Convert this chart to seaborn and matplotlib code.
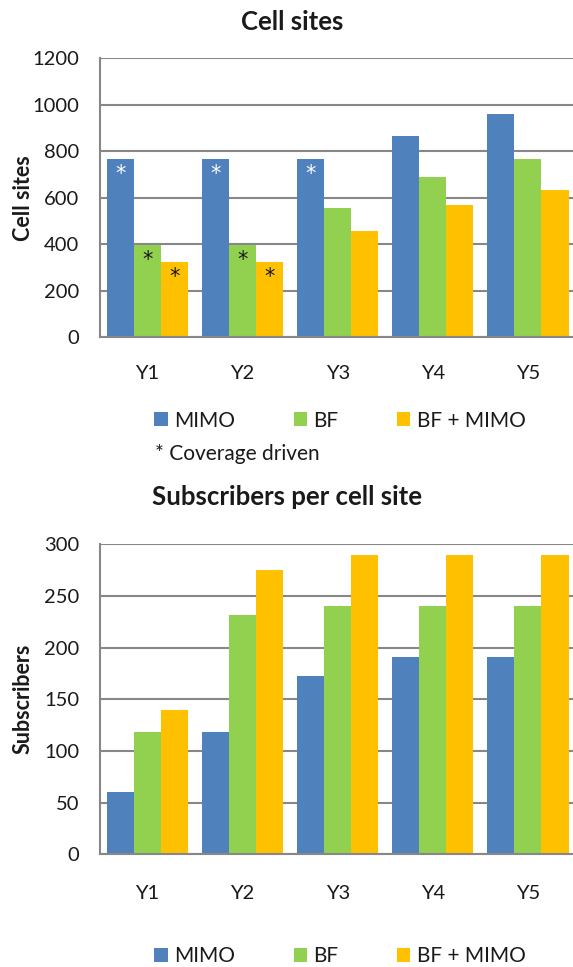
import matplotlib
matplotlib.use("Agg")
import matplotlib.pyplot as plt
from matplotlib.patches import Patch
import seaborn as sns
import pandas as pd

# Data
years = ["Y1", "Y2", "Y3", "Y4", "Y5"]
techs = ["MIMO", "BF", "BF + MIMO"]

sites_mimo = [765, 765, 765, 865, 960]
sites_bf = [395, 395, 557, 690, 765]
sites_bfmimo = [323, 323, 457, 570, 632]

subs_mimo = [60, 118, 173, 191, 191]
subs_bf = [118, 232, 240, 240, 240]
subs_bfmimo = [140, 275, 290, 290, 290]

# Coverage-driven flags (marked with an asterisk on the bar)
cov_mimo = [True, True, True, False, False]
cov_bf = [True, True, False, False, False]
cov_bfmimo = [True, True, False, False, False]

colors = ["#4F81BD", "#92D050", "#FFC000"]
grid_color = "#878787"
text_color = "#1a1a1a"

sns.set_theme(style="white")
plt.rcParams["font.family"] = ["Lato", "DejaVu Sans"]

W, H, DPI = 573, 967, 100
fig = plt.figure(figsize=(W / DPI, H / DPI), dpi=DPI)


def axes_rect(left, right, top, bottom):
    return [left / W, 1 - bottom / H, (right - left) / W, (bottom - top) / H]


def long_frame(series):
    rows = []
    for tech, vals in zip(techs, series):
        for y, v in zip(years, vals):
            rows.append({"year": y, "tech": tech, "value": v})
    return pd.DataFrame(rows)


def draw_panel(ax, df, ymax, ystep, ylabel, xpad):
    sns.barplot(data=df, x="year", y="value", hue="tech", order=years,
                hue_order=techs, palette=colors, saturation=1, width=0.854,
                linewidth=0, legend=False, ax=ax)
    ax.set_xlim(-0.5, len(years) - 0.5)
    ax.set_ylim(0, ymax)
    ax.set_yticks(range(0, ymax + 1, ystep))
    ax.set_axisbelow(True)
    ax.grid(axis="y", color=grid_color, linewidth=1.5)
    ax.grid(axis="x", visible=False)
    for side in ["top", "right"]:
        ax.spines[side].set_visible(False)
    for side in ["left", "bottom"]:
        ax.spines[side].set_color(grid_color)
        ax.spines[side].set_linewidth(1.5)
    ax.tick_params(axis="y", length=0, pad=15, labelsize=14.5, labelcolor=text_color)
    ax.tick_params(axis="x", length=0, pad=xpad, labelsize=14.5, labelcolor=text_color)
    ax.set_xlabel("")
    ax.set_ylabel(ylabel, fontsize=15.5, fontweight="bold", color=text_color)
    ax.yaxis.set_label_coords((23 - 100) / 475.5, 0.5)
    ax.yaxis.label.set_va("center")


# Top panel: cell sites
ax1 = fig.add_axes(axes_rect(100, 575.5, 58.3, 337.0))
draw_panel(ax1, long_frame([sites_mimo, sites_bf, sites_bfmimo]),
           1200, 200, "Cell sites", 20)

star_colors = ["white", text_color, text_color]
for cont, flags, sc in zip(ax1.containers, [cov_mimo, cov_bf, cov_bfmimo], star_colors):
    for bar, flag in zip(cont.patches, flags):
        if flag:
            ax1.annotate("*", xy=(bar.get_x() + bar.get_width() / 2, bar.get_height()),
                         xytext=(0, -15), textcoords="offset pixels",
                         ha="center", va="center", fontsize=15, color=sc,
                         family="DejaVu Sans")

# Bottom panel: subscribers per cell site
ax2 = fig.add_axes(axes_rect(100, 575.5, 544.3, 854.3))
draw_panel(ax2, long_frame([subs_mimo, subs_bf, subs_bfmimo]),
           300, 50, "Subscribers", 22)

# Titles
fig.text(292.5 / W, 1 - 21.7 / H, "Cell sites", ha="center", va="center",
         fontsize=18.5, fontweight="bold", color=text_color)
fig.text(287.5 / W, 1 - 497 / H, "Subscribers per cell site", ha="center",
         va="center", fontsize=18.5, fontweight="bold", color=text_color)

# Legends
handles = [Patch(facecolor=c, edgecolor="none") for c in colors]
for ycen in (420.7, 956.0):
    fig.legend(handles, techs, loc="center", bbox_to_anchor=(340 / W, 1 - ycen / H),
               ncol=3, frameon=False, fontsize=15, handlelength=0.65,
               handleheight=0.65, handletextpad=0.3, columnspacing=2.8,
               borderpad=0, borderaxespad=0, labelcolor=text_color)

fig.text(155 / W, 1 - 454 / H, "* Coverage driven", ha="left", va="center",
         fontsize=15, color=text_color)

fig.savefig("out.png", dpi=DPI)
